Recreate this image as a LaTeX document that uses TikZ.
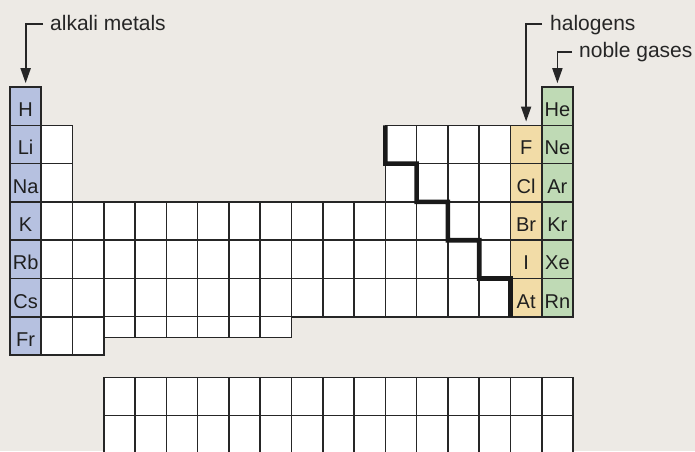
\documentclass[tikz,border=0pt]{standalone}
\usepackage{fontspec}
\setmainfont{Liberation Sans}
\usetikzlibrary{arrows.meta}

\definecolor{paper}{HTML}{EDEAE5}
\definecolor{gridline}{HTML}{262626}
\definecolor{alkaliblue}{HTML}{B6C1E0}
\definecolor{halogenyellow}{HTML}{F2DCA7}
\definecolor{noblegreen}{HTML}{BFDAB5}

\begin{document}
\begin{tikzpicture}[
  x=1pt, y=-1pt,
  font=\fontsize{20}{24}\selectfont,
  cell/.style={draw=gridline, line width=1.6pt, fill=white, inner sep=0pt, outer sep=0pt,
    minimum width=\cw pt, minimum height=\rh pt, text height=21pt, text depth=0pt, text=black!88},
  shortcell/.style={cell, minimum height=\sh pt},
  alkali/.style={fill=alkaliblue},
  halogen/.style={fill=halogenyellow},
  noble/.style={fill=noblegreen},
  family/.style={inner sep=0pt, anchor=west, text height=15pt, text depth=3pt,
    font=\fontsize{21}{25}\selectfont, text=black!85},
  leader/.style={-{Triangle[length=15pt,width=10pt]}, line width=1.8pt, draw=black!85, shorten >=3.8pt},
  metalline/.style={draw=black!90, line width=4.6pt}
]

\def\cw{31.28}
\def\rh{38.3}
\def\sh{20.3}
\def\xo{10}
\def\yo{87}
\def\fo{377.3}

\useasboundingbox (0,0) rectangle (695,451);
\fill[paper] (0,0) rectangle (695,451);
\clip (0,0) rectangle (695,451);

% Empty cells of the main block.
\foreach \r in {2,3}{
  \foreach \c in {2,13,14,15,16}{
    \node[cell] (c-\c-\r) at ({\xo+(\c-0.5)*\cw},{\yo+(\r-0.5)*\rh}) {};
  }
}
\foreach \r in {4,5,6}{
  \foreach \c in {2,...,16}{
    \node[cell] (c-\c-\r) at ({\xo+(\c-0.5)*\cw},{\yo+(\r-0.5)*\rh}) {};
  }
}
\foreach \c in {2,3}{
  \node[cell] (c-\c-7) at ({\xo+(\c-0.5)*\cw},{\yo+6.5*\rh}) {};
}
\foreach \c in {4,...,9}{
  \node[shortcell] (c-\c-7) at ({\xo+(\c-0.5)*\cw},{\yo+6*\rh+0.5*\sh}) {};
}

% Lanthanide and actinide rows.
\foreach \r in {1,2}{
  \foreach \c in {4,...,18}{
    \node[cell] (f-\c-\r) at ({\xo+(\c-0.5)*\cw},{\fo+(\r-0.5)*\rh}) {};
  }
}

% Coloured groups.
\foreach \s [count=\r] in {H,Li,Na,K,Rb,Cs,Fr}{
  \node[cell, alkali] (\s) at ({\xo+0.5*\cw},{\yo+(\r-0.5)*\rh}) {\s};
}
\foreach \s [count=\i] in {F,Cl,Br,I,At}{
  \node[cell, halogen] (\s) at ({\xo+16.5*\cw},{\yo+(\i+0.5)*\rh}) {\s};
}
\foreach \s [count=\r] in {He,Ne,Ar,Kr,Xe,Rn}{
  \node[cell, noble] (\s) at ({\xo+17.5*\cw},{\yo+(\r-0.5)*\rh}) {\s};
}

% Metal / non-metal staircase.
\draw[metalline] (c-13-2.north west) -- (c-13-2.south west) -- (c-14-3.north west)
  -- (c-14-3.south west) -- (c-15-4.north west) -- (c-15-4.south west)
  -- (c-16-5.north west) -- (c-16-5.south west) -- (At.north west) -- (At.south west);

% Group labels.
\node[family] (alkaliLabel) at (50,24) {alkali metals};
\node[family] (halogenLabel) at (550,24) {halogens};
\node[family] (nobleLabel) at (579,51.7) {noble gases};

\draw[leader] ([xshift=-7pt]alkaliLabel.west) -| (H.north);
\draw[leader] ([xshift=-8pt]halogenLabel.west) -| (F.north);
\draw[leader] ([xshift=-7pt]nobleLabel.west) -| (He.north);

\end{tikzpicture}
\end{document}
